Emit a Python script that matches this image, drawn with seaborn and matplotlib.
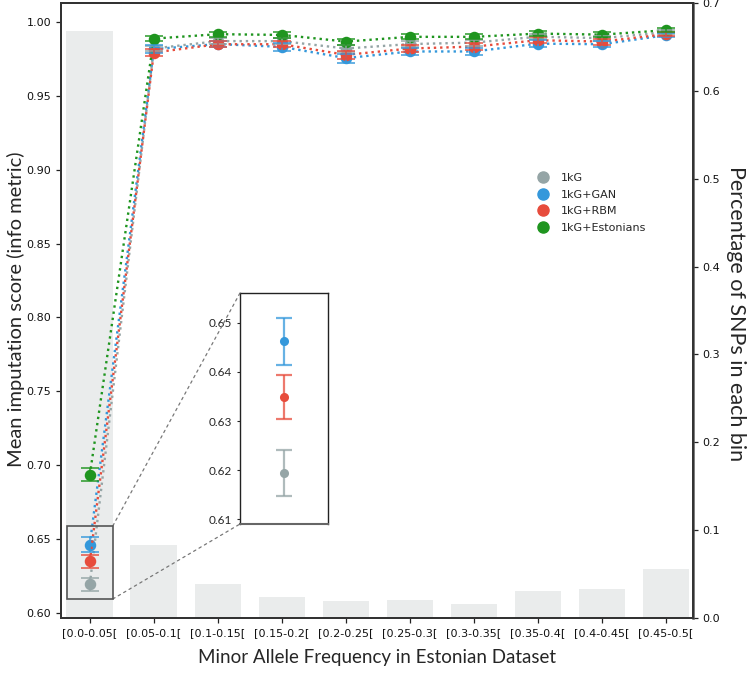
import numpy as np
import pandas as pd
import matplotlib
matplotlib.use("Agg")
import matplotlib.pyplot as plt
import seaborn as sns
from matplotlib.patches import Rectangle, ConnectionPatch
from matplotlib.lines import Line2D

# ---------------- data ----------------
bins = ['[0.0-0.05[', '[0.05-0.1[', '[0.1-0.15[', '[0.15-0.2[', '[0.2-0.25[',
        '[0.25-0.3[', '[0.3-0.35[', '[0.35-0.4[', '[0.4-0.45[', '[0.45-0.5[']
pct_snps = [0.668, 0.083, 0.039, 0.024, 0.019, 0.020, 0.016, 0.031, 0.033, 0.056]

datasets = ['1kG', '1kG+GAN', '1kG+RBM', '1kG+Estonians']
score_1kg = [0.6194, 0.9820, 0.9870, 0.9870, 0.9820, 0.9850, 0.9860, 0.9900, 0.9890, 0.9930]
score_gan = [0.6463, 0.9816, 0.9850, 0.9831, 0.9755, 0.9800, 0.9800, 0.9853, 0.9849, 0.9910]
score_rbm = [0.6349, 0.9793, 0.9849, 0.9849, 0.9777, 0.9820, 0.9833, 0.9876, 0.9867, 0.9917]
score_est = [0.6935, 0.9887, 0.9917, 0.9912, 0.9867, 0.9899, 0.9899, 0.9921, 0.9914, 0.9944]

err_1kg = [0.0046, 0.0020, 0.0020, 0.0020, 0.0022, 0.0020, 0.0020, 0.0018, 0.0018, 0.0015]
err_gan = [0.0048, 0.0025, 0.0022, 0.0025, 0.0030, 0.0025, 0.0025, 0.0022, 0.0022, 0.0015]
err_rbm = [0.0044, 0.0022, 0.0020, 0.0022, 0.0028, 0.0022, 0.0022, 0.0020, 0.0020, 0.0015]
err_est = [0.0045, 0.0018, 0.0018, 0.0018, 0.0020, 0.0018, 0.0018, 0.0018, 0.0018, 0.0012]

colors = ['#95a5a6', '#3498db', '#e74c3c', '#1f951f']

scores = [score_1kg, score_gan, score_rbm, score_est]
errs = [err_1kg, err_gan, err_rbm, err_est]

df_pts = pd.DataFrame({
    'bin': bins * len(datasets),
    'score': sum(scores, []),
    'dataset': sum([[d] * len(bins) for d in datasets], []),
})
df_bar = pd.DataFrame({'bin': bins, 'pct': pct_snps})

# ---------------- figure ----------------
sns.set_style("ticks")
plt.rcParams['font.family'] = ['DejaVu Sans']

fig = plt.figure(figsize=(7.47, 6.75), dpi=100)
ax = fig.add_axes([61 / 747, 57 / 675, 632 / 747, 615 / 675])
ax2 = ax.twinx()
ax.set_zorder(ax2.get_zorder() + 1)
ax.patch.set_visible(False)

# bars (right axis)
sns.barplot(data=df_bar, x='bin', y='pct', color='#95a5a6', alpha=0.2,
            width=0.73, ax=ax2, linewidth=0)
ax2.set_ylim(0, 0.7)
ax2.set_yticks(np.arange(0, 0.71, 0.1))
ax2.set_yticklabels([f"{v:.1f}" for v in np.arange(0, 0.71, 0.1)], fontsize=8)
ax2.set_ylabel('')

# points (left axis)
sns.pointplot(data=df_pts, x='bin', y='score', hue='dataset', hue_order=datasets,
              palette=colors, markers='o', linestyles=':', errorbar=None,
              markersize=7, linewidth=1.7, legend=False, ax=ax)
xs = np.arange(len(bins))
for s, e, c in zip(scores, errs, colors):
    ax.errorbar(xs, s, yerr=e, fmt='none', ecolor=c, elinewidth=1.4,
                capsize=6.5, capthick=1.4, alpha=0.75, zorder=3)

ax.set_xlim(-0.45, 9.42)
ax.set_ylim(0.5966, 1.0128)
ax.set_yticks(np.arange(0.60, 1.001, 0.05))
ax.set_yticklabels([f"{v:.2f}" for v in np.arange(0.60, 1.001, 0.05)], fontsize=8)
ax.set_xticks(xs)
ax.set_xticklabels(bins, fontsize=8)
ax.set_xlabel('')
ax.set_ylabel('')

for a in (ax, ax2):
    a.tick_params(axis='both', length=3.5, width=0.9, colors='#222222', labelcolor='#111111')
    for sp in a.spines.values():
        sp.set_visible(True)
        sp.set_color('#333333')
        sp.set_linewidth(1.4)
ax2.spines['right'].set_color('#555555')
ax2.spines['right'].set_linewidth(1.8)

# zoom rectangle
rect = Rectangle((-0.36, 0.6095), 0.72, 0.0495, fill=False, edgecolor='#555555',
                 linewidth=1.2, zorder=5)
ax.add_patch(rect)

# legend
handles = [Line2D([], [], marker='o', linestyle='none', color=c, markersize=8)
           for c in colors]
ax.legend(handles, datasets, loc='upper left', bbox_to_anchor=(0.737, 0.74),
          frameon=False, fontsize=8, handletextpad=1.0, labelspacing=0.6,
          handlelength=1.2)

# inset
axin = fig.add_axes([240 / 747, 151 / 675, 88 / 747, 231 / 675])
sns.pointplot(data=df_pts[df_pts['bin'] == bins[0]], x='bin', y='score', hue='dataset',
              hue_order=datasets, palette=colors, markers='o', linestyles='none',
              errorbar=None, markersize=4.5, legend=False, ax=axin)
for s, e, c in zip(scores[:3], errs[:3], colors[:3]):
    axin.errorbar([0], [s[0]], yerr=[e[0]], fmt='none', ecolor=c, elinewidth=1.6,
                  capsize=6, capthick=1.6, alpha=0.75, zorder=3)
axin.set_xlim(-0.5, 0.5)
axin.set_ylim(0.609, 0.6561)
axin.set_yticks([0.61, 0.62, 0.63, 0.64, 0.65])
axin.set_yticklabels(['0.61', '0.62', '0.63', '0.64', '0.65'], family='Lato', fontsize=8.5)
axin.set_xticks([])
axin.set_xlabel('')
axin.set_ylabel('')
axin.tick_params(axis='y', length=2.5, width=0.8)
for sp in axin.spines.values():
    sp.set_visible(True)
    sp.set_color('#222222')
    sp.set_linewidth(1.0)
axin.spines['bottom'].set_color('#666666')
axin.spines['bottom'].set_linewidth(1.5)

# connector lines
for (xa, ya), (xb, yb) in [((0.36, 0.659), (0, 1)), ((0.36, 0.6095), (0, 0))]:
    con = ConnectionPatch(xyA=(xa, ya), coordsA=ax.transData, xyB=(xb, yb),
                          coordsB=axin.transAxes, color='#777777', linewidth=0.9,
                          linestyle=(0, (2, 3)))
    fig.add_artist(con)

# axis labels
fig.text(377 / 747, 1 - 657 / 675, 'Minor Allele Frequency in Estonian Dataset',
         family='Lato', fontsize=13.5, ha='center', va='center')
fig.text(16 / 747, 1 - 309 / 675, 'Mean imputation score (info metric)',
         family='Lato', fontsize=14.5, ha='center', va='center', rotation=90)
fig.text(736 / 747, 1 - 314 / 675, 'Percentage of SNPs in each bin',
         family='Lato', fontsize=15.5, ha='center', va='center', rotation=270)

fig.savefig('out.png', dpi=100)
